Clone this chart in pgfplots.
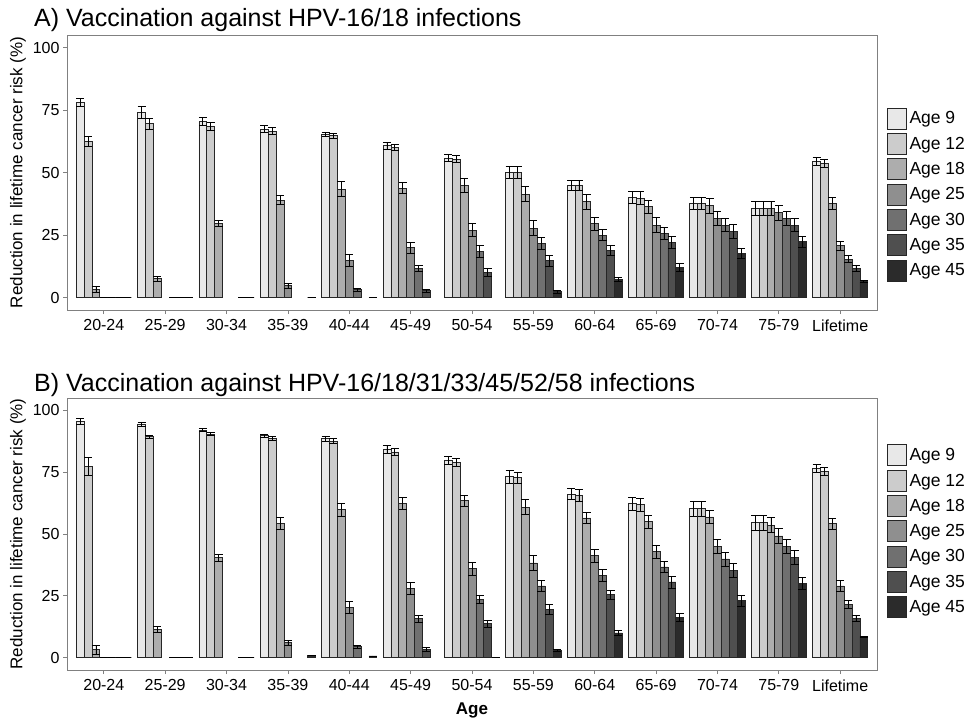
\documentclass[border=0pt]{standalone}
\usepackage{fontspec}
\setmainfont{Liberation Sans}
\usepackage{pgfplots}
\usepackage{pgfplotstable}
\pgfplotsset{compat=1.18}

\definecolor{c9}{HTML}{E8E8E8}
\definecolor{c12}{HTML}{CCCCCC}
\definecolor{c18}{HTML}{ADADAD}
\definecolor{c25}{HTML}{8F8F8F}
\definecolor{c30}{HTML}{707070}
\definecolor{c35}{HTML}{4F4F4F}
\definecolor{c45}{HTML}{2B2B2B}

\newcommand\titlefont{\fontsize{25}{28}\selectfont}
\newcommand\tickfont{\fontsize{16}{18}\selectfont}
\newcommand\labfont{\fontsize{17}{19}\selectfont}
\newcommand\legfont{\fontsize{17.5}{20}\selectfont}

% panel A: HPV-16/18 ; columns = mean and half error bar per vaccination age
\pgfplotstableread{
g a9 e9 a12 e12 a18 e18 a25 e25 a30 e30 a35 e35 a45 e45
0  78.0 1.7 62.3 2.0  3.1 1.2  0.0 0.0  0.0 0.0  0.0 0.0  0.0 0.0
1  74.0 2.5 69.5 2.2  7.6 1.0  nan nan  0.0 0.0  0.0 0.0  0.0 0.0
2  70.3 1.6 68.6 1.6 29.6 1.3  nan nan  nan nan  0.0 0.0  0.0 0.0
3  67.4 1.5 66.6 1.5 39.0 1.9  4.7 1.0  nan nan  nan nan  0.0 0.0
4  65.3 0.9 64.8 1.0 43.3 3.0 14.9 2.3  3.1 0.7  nan nan  0.0 0.0
5  60.7 1.3 60.0 1.1 43.8 2.1 20.0 2.2 11.6 1.1  2.7 0.5  nan nan
6  55.8 1.4 55.4 1.5 44.8 2.8 27.0 2.7 18.4 2.3 10.0 1.5  nan nan
7  50.0 2.5 50.0 2.5 41.3 3.0 27.8 3.0 21.6 2.5 14.8 2.2  2.3 0.5
8  44.8 2.0 44.8 2.0 38.3 2.9 29.6 2.6 25.0 2.2 19.0 2.0  7.3 0.9
9  40.0 2.5 39.7 2.6 36.3 2.7 29.0 2.9 25.7 2.4 22.0 2.4 12.0 1.5
10 37.7 2.3 37.7 2.3 36.7 2.9 31.7 2.7 29.0 2.7 26.4 2.8 17.7 2.0
11 35.6 2.7 35.6 2.7 35.6 2.7 34.0 3.0 31.6 2.8 29.0 2.7 22.4 2.2
12 54.4 1.5 53.7 1.5 37.6 2.3 20.7 1.9 15.3 1.4 11.6 1.3  6.4 0.3
}\tabA

% panel B: HPV-16/18/31/33/45/52/58
\pgfplotstableread{
g a9 e9 a12 e12 a18 e18 a25 e25 a30 e30 a35 e35 a45 e45
0  95.4 1.2 77.5 3.6  3.3 1.8  0.0 0.0  0.0 0.0  0.0 0.0  0.0 0.0
1  94.5 0.8 89.3 0.6 11.3 1.2  nan nan  0.0 0.0  0.0 0.0  0.0 0.0
2  92.0 0.6 90.3 0.6 40.4 1.5  nan nan  nan nan  0.0 0.0  0.0 0.0
3  89.7 0.7 88.8 0.8 54.3 2.5  6.0 1.0  nan nan  nan nan  0.8 0.0
4  88.5 1.0 87.6 1.0 59.8 2.7 20.3 2.3  4.4 0.6  nan nan  0.7 0.0
5  84.3 1.5 83.2 1.6 62.3 2.5 28.0 2.3 15.7 1.5  3.4 0.8  nan nan
6  79.6 1.6 79.1 1.6 63.4 2.3 36.0 2.6 23.7 1.6 13.7 1.5  0.0 0.0
7  73.1 2.6 72.7 2.4 60.8 3.0 38.3 3.0 29.0 2.2 19.5 2.0  3.0 0.3
8  66.1 2.3 65.6 2.3 56.5 2.3 41.2 2.5 33.2 2.3 25.4 1.9 10.0 1.0
9  62.2 2.7 61.8 2.8 54.9 2.8 42.8 2.6 36.7 2.3 30.6 2.4 16.2 1.6
10 60.2 2.9 60.2 2.9 56.9 2.7 45.0 2.9 39.9 2.8 35.2 2.8 23.0 2.3
11 54.5 2.9 54.5 2.9 53.6 3.0 49.2 2.9 45.0 2.7 40.6 2.7 29.9 2.5
12 76.5 1.7 75.4 1.7 54.1 2.1 29.0 2.2 21.5 1.7 16.0 1.2  8.4 0.3
}\tabB

\pgfplotsset{
  hpv/.style={
    width=810pt, scale only axis,
    ybar, bar width=0.128571, bar shift=0pt,
    xmin=-0.6, xmax=12.6, ymin=-5, ymax=105,
    xtick={0,...,12},
    xticklabels={20-24,25-29,30-34,35-39,40-44,45-49,50-54,55-59,60-64,65-69,70-74,75-79,Lifetime},
    ytick={0,25,50,75,100},
    tick align=outside, major tick length=4pt,
    xtick pos=bottom, ytick pos=left,
    axis line style={black!50, line width=0.8pt},
    tick style={black!50, line width=0.8pt},
    tick label style={font=\tickfont, text=black},
    xticklabel style={yshift=-2pt},
    /pgf/number format/assume math mode=true,
    ylabel={Reduction in lifetime cancer risk (\%)},
    ylabel style={font=\labfont},
    legend cell align=left,
    legend style={anchor=west, xshift=10pt, draw=none, fill=none,
      font=\legfont, row sep=3.5pt, inner sep=0pt,
      nodes={inner sep=0.5pt},
      /tikz/every odd column/.style={column sep=2pt}},
    legend image code/.code={\draw[##1,/tikz/.cd,line width=0.8pt,draw=black!85]
      (0pt,-10.5pt) rectangle (19pt,10.5pt);},
  },
  agebar/.style={fill=#1, draw=black!85, line width=0.8pt,
    error bars/.cd, y dir=both, y explicit,
    error bar style={black, line width=0.8pt},
    error mark options={black, rotate=90, mark size=4pt, line width=0.8pt}},
}

\begin{document}
\begin{tikzpicture}
\path[use as bounding box] (0pt,0pt) rectangle (974pt,-724pt);

\node[anchor=base west, font=\titlefont, inner sep=0pt] at (34pt,-26pt)
  {A) Vaccination against HPV-16/18 infections};
\begin{axis}[hpv, height=275pt, at={(67pt,-310pt)}, anchor=south west,
  legend style={at={(1,0.42)}}]
\addplot[agebar=c9]  table[x expr=\thisrow{g}-0.385714, y=a9,  y error=e9]  {\tabA};
\addplot[agebar=c12] table[x expr=\thisrow{g}-0.257143, y=a12, y error=e12] {\tabA};
\addplot[agebar=c18] table[x expr=\thisrow{g}-0.128571, y=a18, y error=e18] {\tabA};
\addplot[agebar=c25] table[x expr=\thisrow{g},          y=a25, y error=e25] {\tabA};
\addplot[agebar=c30] table[x expr=\thisrow{g}+0.128571, y=a30, y error=e30] {\tabA};
\addplot[agebar=c35] table[x expr=\thisrow{g}+0.257143, y=a35, y error=e35] {\tabA};
\addplot[agebar=c45] table[x expr=\thisrow{g}+0.385714, y=a45, y error=e45] {\tabA};
\legend{Age 9,Age 12,Age 18,Age 25,Age 30,Age 35,Age 45}
\end{axis}

\node[anchor=base west, font=\titlefont, inner sep=0pt] at (34pt,-391pt)
  {B) Vaccination against HPV-16/18/31/33/45/52/58 infections};
\begin{axis}[hpv, height=272pt, at={(67pt,-670pt)}, anchor=south west,
  legend style={at={(1,0.51)}},
  xlabel={Age}, xlabel style={font=\labfont\bfseries, yshift=-5pt}]
\addplot[agebar=c9]  table[x expr=\thisrow{g}-0.385714, y=a9,  y error=e9]  {\tabB};
\addplot[agebar=c12] table[x expr=\thisrow{g}-0.257143, y=a12, y error=e12] {\tabB};
\addplot[agebar=c18] table[x expr=\thisrow{g}-0.128571, y=a18, y error=e18] {\tabB};
\addplot[agebar=c25] table[x expr=\thisrow{g},          y=a25, y error=e25] {\tabB};
\addplot[agebar=c30] table[x expr=\thisrow{g}+0.128571, y=a30, y error=e30] {\tabB};
\addplot[agebar=c35] table[x expr=\thisrow{g}+0.257143, y=a35, y error=e35] {\tabB};
\addplot[agebar=c45] table[x expr=\thisrow{g}+0.385714, y=a45, y error=e45] {\tabB};
\legend{Age 9,Age 12,Age 18,Age 25,Age 30,Age 35,Age 45}
\end{axis}
\end{tikzpicture}
\end{document}
